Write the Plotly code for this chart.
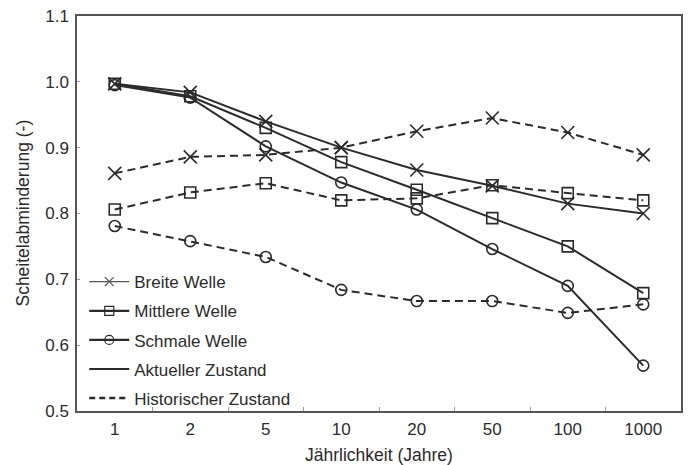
import plotly.graph_objects as go

categories = ["1", "2", "5", "10", "20", "50", "100", "1000"]

breite_aktuell = [0.997, 0.984, 0.940, 0.900, 0.866, 0.842, 0.815, 0.800]
breite_hist = [0.861, 0.886, 0.889, 0.900, 0.925, 0.945, 0.923, 0.889]
mittlere_aktuell = [0.997, 0.978, 0.930, 0.878, 0.836, 0.793, 0.750, 0.679]
mittlere_hist = [0.806, 0.832, 0.846, 0.820, 0.823, 0.843, 0.831, 0.820]
schmale_aktuell = [0.995, 0.976, 0.902, 0.847, 0.806, 0.746, 0.690, 0.569]
schmale_hist = [0.781, 0.758, 0.734, 0.684, 0.667, 0.667, 0.649, 0.662]

y_ticks = [0.5, 0.6, 0.7, 0.8, 0.9, 1.0, 1.1]

C = "#2b2b2b"
FONT = "Liberation Sans, Arial, sans-serif"
DASH = "8px,5px"

series = [
    (breite_aktuell, "x-thin-open", "solid", 13),
    (mittlere_aktuell, "square-open", "solid", 11),
    (schmale_aktuell, "circle-open", "solid", 11),
    (breite_hist, "x-thin-open", DASH, 13),
    (mittlere_hist, "square-open", DASH, 11),
    (schmale_hist, "circle-open", DASH, 11),
]

fig = go.Figure()
for vals, sym, dash, size in series:
    fig.add_trace(go.Scatter(
        x=categories, y=vals, mode="lines+markers", showlegend=False,
        line=dict(color=C, width=2, dash=dash),
        marker=dict(symbol=sym, size=size, color=C, line=dict(width=1.6, color=C)),
        hoverinfo="skip",
    ))

legend_items = [
    ("Breite Welle", "lines+markers", "x-thin-open", "solid", "#555555", 1.2),
    ("Mittlere Welle", "lines+markers", "square-open", "solid", C, 2.2),
    ("Schmale Welle", "lines+markers", "circle-open", "solid", C, 2.2),
    ("Aktueller Zustand", "lines", None, "solid", C, 2),
    ("Historischer Zustand", "lines", None, "6px,4px", C, 2.5),
]
for i, (name, mode, sym, dash, col, w) in enumerate(legend_items):
    kw = {}
    if sym:
        kw["marker"] = dict(symbol=sym, size=9, color=col, line=dict(width=1.2, color=col))
    fig.add_trace(go.Scatter(
        x=[None], y=[None], mode=mode, name=name, legendgroup=f"g{i}",
        line=dict(color=col, width=w, dash=dash), **kw,
    ))

fig.update_layout(
    width=688, height=465,
    margin=dict(l=77, r=7, t=16, b=54, autoexpand=False),
    paper_bgcolor="white", plot_bgcolor="white",
    font=dict(family=FONT, size=17, color=C),
    legend=dict(
        x=0.012, y=-0.013, xanchor="left", yanchor="bottom",
        bgcolor="rgba(0,0,0,0)", font=dict(size=17, color=C),
        tracegroupgap=4, itemwidth=40,
    ),
    annotations=[
        dict(
            text="Jährlichkeit (Jahre)", xref="paper", yref="paper",
            x=0.5, y=-0.111, xanchor="center", yanchor="middle",
            showarrow=False, font=dict(size=17.5, color=C),
        ),
        dict(
            text="Scheitelabminderung (-)", xref="paper", yref="paper",
            x=-0.091, y=0.5, xanchor="center", yanchor="middle", textangle=-90,
            showarrow=False, font=dict(size=17.5, color=C),
        ),
    ],
)
fig.update_xaxes(
    type="category", range=[-0.5, 7.5], automargin=False,
    showline=True, linecolor="#555555", linewidth=1.5, mirror=True,
    ticks="inside", tickson="boundaries", ticklen=4, tickcolor="#999999",
    showgrid=False, zeroline=False, ticklabelstandoff=2,
)
fig.update_yaxes(
    range=[0.5, 1.1], tickvals=y_ticks, tickformat=".1f", automargin=False,
    showline=True, linecolor="#555555", linewidth=1.5, mirror=True,
    ticks="inside", ticklen=3, tickcolor="#999999", ticklabeloverflow="allow",
    showgrid=False, zeroline=False, ticklabelstandoff=3,
)

fig.write_html(
    "out.html",
    config={"displayModeBar": False},
    post_script="document.body.style.margin='0';",
)
